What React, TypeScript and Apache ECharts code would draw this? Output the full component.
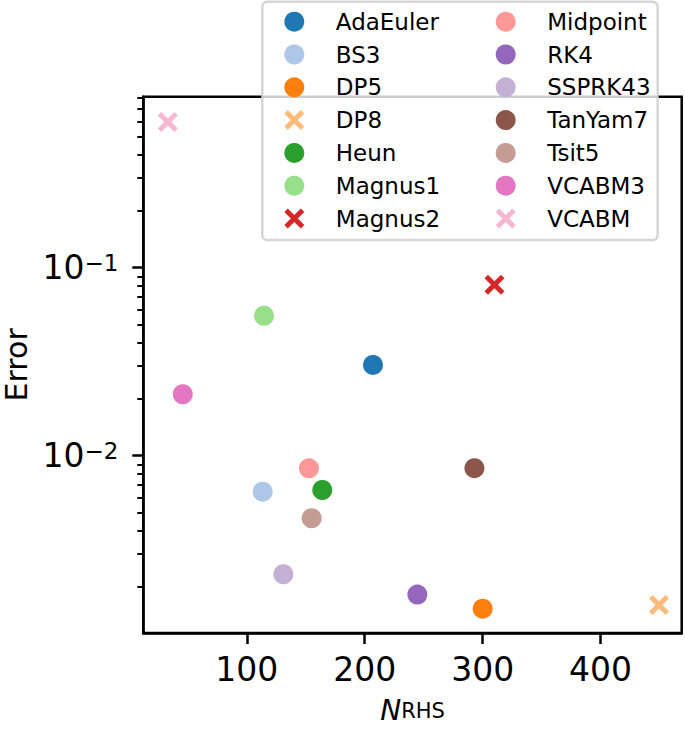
import React, { useEffect, useRef } from "react";
import * as echarts from "echarts";

const methods = ["AdaEuler", "BS3", "DP5", "DP8", "Heun", "Magnus1", "Magnus2", "Midpoint", "RK4", "SSPRK43", "TanYam7", "Tsit5", "VCABM3", "VCABM"];
const nRHS = [207, 113.5, 300, 449.5, 164, 114.6, 310, 152.7, 244.6, 131, 293, 155, 45.7, 33];
const errors = [0.0304, 0.00644, 0.001535, 0.001607, 0.00657, 0.0555, 0.0812, 0.00857, 0.001824, 0.00234, 0.00858, 0.00465, 0.02123, 0.596];
const markers = ["o", "o", "o", "x", "o", "o", "x", "o", "o", "o", "o", "o", "o", "x"];
const colors = ["#1f77b4", "#aec7e8", "#ff7f0e", "#ffbb78", "#2ca02c", "#98df8a", "#d62728", "#ff9896", "#9467bd", "#c5b0d5", "#8c564b", "#c49c94", "#e377c2", "#f7b6d2"];
const xTicks = [100, 200, 300, 400];
const yTicks = [0.01, 0.1];
const yMinorTicks = [0.002, 0.003, 0.004, 0.005, 0.006, 0.007, 0.008, 0.009, 0.02, 0.03, 0.04, 0.05, 0.06, 0.07, 0.08, 0.09, 0.2, 0.3, 0.4, 0.5, 0.6, 0.7, 0.8];

const FONT = "DejaVu Sans";
const X_PATH = "path://M3.5,0 L10,6.5 L16.5,0 L20,3.5 L13.5,10 L20,16.5 L16.5,20 L10,13.5 L3.5,20 L0,16.5 L6.5,10 L0,3.5 Z";

export default function App() {
  const ref = useRef<HTMLDivElement>(null);
  useEffect(() => {
    if (!ref.current) return;
    const chart = echarts.init(ref.current, null, { renderer: "svg" });
    const series = methods.map((m, i) => ({
      type: "scatter",
      name: m,
      xAxisIndex: 0,
      yAxisIndex: 0,
      data: [[nRHS[i], errors[i]]],
      symbol: markers[i] === "x" ? X_PATH : "circle",
      symbolSize: 20,
      itemStyle: { color: colors[i], opacity: 1 },
      emphasis: { disabled: true },
      z: 3,
    }));
    const legendCommon = {
      orient: "vertical",
      top: 10.2,
      padding: 0,
      itemWidth: 73,
      itemHeight: 20,
      itemGap: 9.8,
      selectedMode: false,
      textStyle: { fontSize: 23, fontFamily: FONT, color: "#000" },
      z: 8,
    };
    chart.setOption({
      animation: false,
      backgroundColor: "#fff",
      textStyle: { fontFamily: FONT },
      grid: {
        left: 143.3,
        top: 96.7,
        width: 538.4,
        height: 536.3,
        show: true,
        borderColor: "#000",
        borderWidth: 2.5,
        backgroundColor: "transparent",
        containLabel: false,
        outerBoundsMode: "none",
      },
      legend: [
        { ...legendCommon, left: 284.3, data: methods.slice(0, 7) },
        { ...legendCommon, left: 495.7, data: methods.slice(7) },
      ],
      graphic: [
        {
          type: "rect",
          z: 6,
          shape: { x: 262.3, y: 1.7, width: 395.4, height: 238.3, r: 5 },
          style: { fill: "rgba(255,255,255,0.8)", stroke: "rgba(204,204,204,0.8)", lineWidth: 2.5 },
        },
      ],
      xAxis: {
        type: "value",
        min: 12.25,
        max: 468.75,
        position: "bottom",
        axisLine: { show: true, onZero: false, lineStyle: { color: "#000", width: 2.5 } },
        axisTick: { show: true, inside: false, length: 11, customValues: xTicks, lineStyle: { color: "#000", width: 2.5 } },
        axisLabel: { customValues: xTicks, fontSize: 33, color: "#000", fontFamily: FONT, margin: 20 },
        splitLine: { show: false },
        name: "{i|N}{s|RHS}",
        nameLocation: "middle",
        nameGap: 66,
        nameTextStyle: {
          rich: {
            i: { fontSize: 28, fontStyle: "italic", fontFamily: FONT, color: "#000", lineHeight: 22 },
            s: { fontSize: 21, fontFamily: FONT, color: "#000", lineHeight: 14, verticalAlign: "bottom" },
          },
        },
      },
      yAxis: [
        {
          type: "log",
          logBase: 10,
          min: 0.00114,
          max: 0.812,
          position: "left",
          axisLine: { show: true, onZero: false, lineStyle: { color: "#000", width: 2.5 } },
          axisTick: { show: true, inside: false, length: 11, customValues: yTicks, lineStyle: { color: "#000", width: 2.5 } },
          axisLabel: {
            customValues: yTicks,
            margin: 25,
            formatter: (v: number) => "{a|10}{b|\u2212" + Math.round(-Math.log10(v)) + "}",
            rich: {
              a: { fontSize: 33, fontFamily: FONT, color: "#000", lineHeight: 33 },
              b: { fontSize: 23, fontFamily: FONT, color: "#000", lineHeight: 23, verticalAlign: "top" },
            },
          },
          splitLine: { show: false },
          name: "Error",
          nameLocation: "middle",
          nameGap: 107,
          nameTextStyle: { fontSize: 30, lineHeight: 24, fontFamily: FONT, color: "#000" },
        },
        {
          type: "log",
          logBase: 10,
          min: 0.00114,
          max: 0.812,
          position: "left",
          axisLine: { show: false },
          axisTick: { show: true, inside: false, length: 6, customValues: yMinorTicks, lineStyle: { color: "#000", width: 2 } },
          axisLabel: { show: false },
          splitLine: { show: false },
        },
      ],
      series,
    });
    return () => chart.dispose();
  }, []);
  return <div ref={ref} style={{ position: "absolute", left: 0, top: 0, width: 685, height: 729 }} />;
}
